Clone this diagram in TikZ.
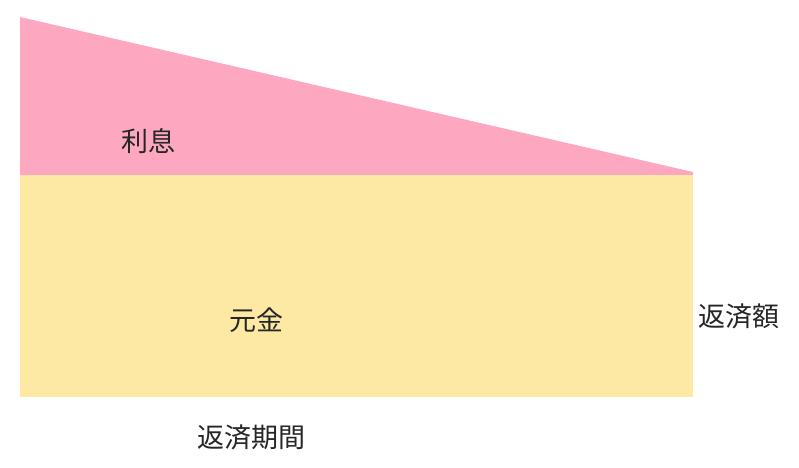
\documentclass[tikz,border=0pt]{standalone}
\usepackage{fontspec}
\newfontfamily\cjk{Noto Sans CJK JP}
\definecolor{interestpink}{HTML}{FDA8C0}
\definecolor{principalyellow}{HTML}{FDE9A4}
\tikzset{
  lbl/.style={font=\cjk\fontsize{27}{32}\selectfont, text=black!85, inner sep=0pt}
}
\begin{document}
\begin{tikzpicture}[x=1pt,y=-1pt]
  \useasboundingbox (0,0) rectangle (799,467);
  \coordinate (tl) at (20,17);
  \coordinate (ml) at (20,175);
  \coordinate (tip) at (693,172);
  \coordinate (mr) at (693,175);
  \coordinate (bl) at (20,397);
  \coordinate (br) at (693,397);
  % interest and principal
  \fill[interestpink] (tl) -- (tip) -- (mr) -- (ml) -- cycle;
  \fill[principalyellow] (ml) rectangle (br);
  \node[lbl] (interest) at (148,141) {利息};
  \node[lbl] (principal) at (256,320) {元金};
  \node[lbl] (amount) at (739,316) {返済額};
  \node[lbl] (period) at (251,437) {返済期間};
\end{tikzpicture}
\end{document}
